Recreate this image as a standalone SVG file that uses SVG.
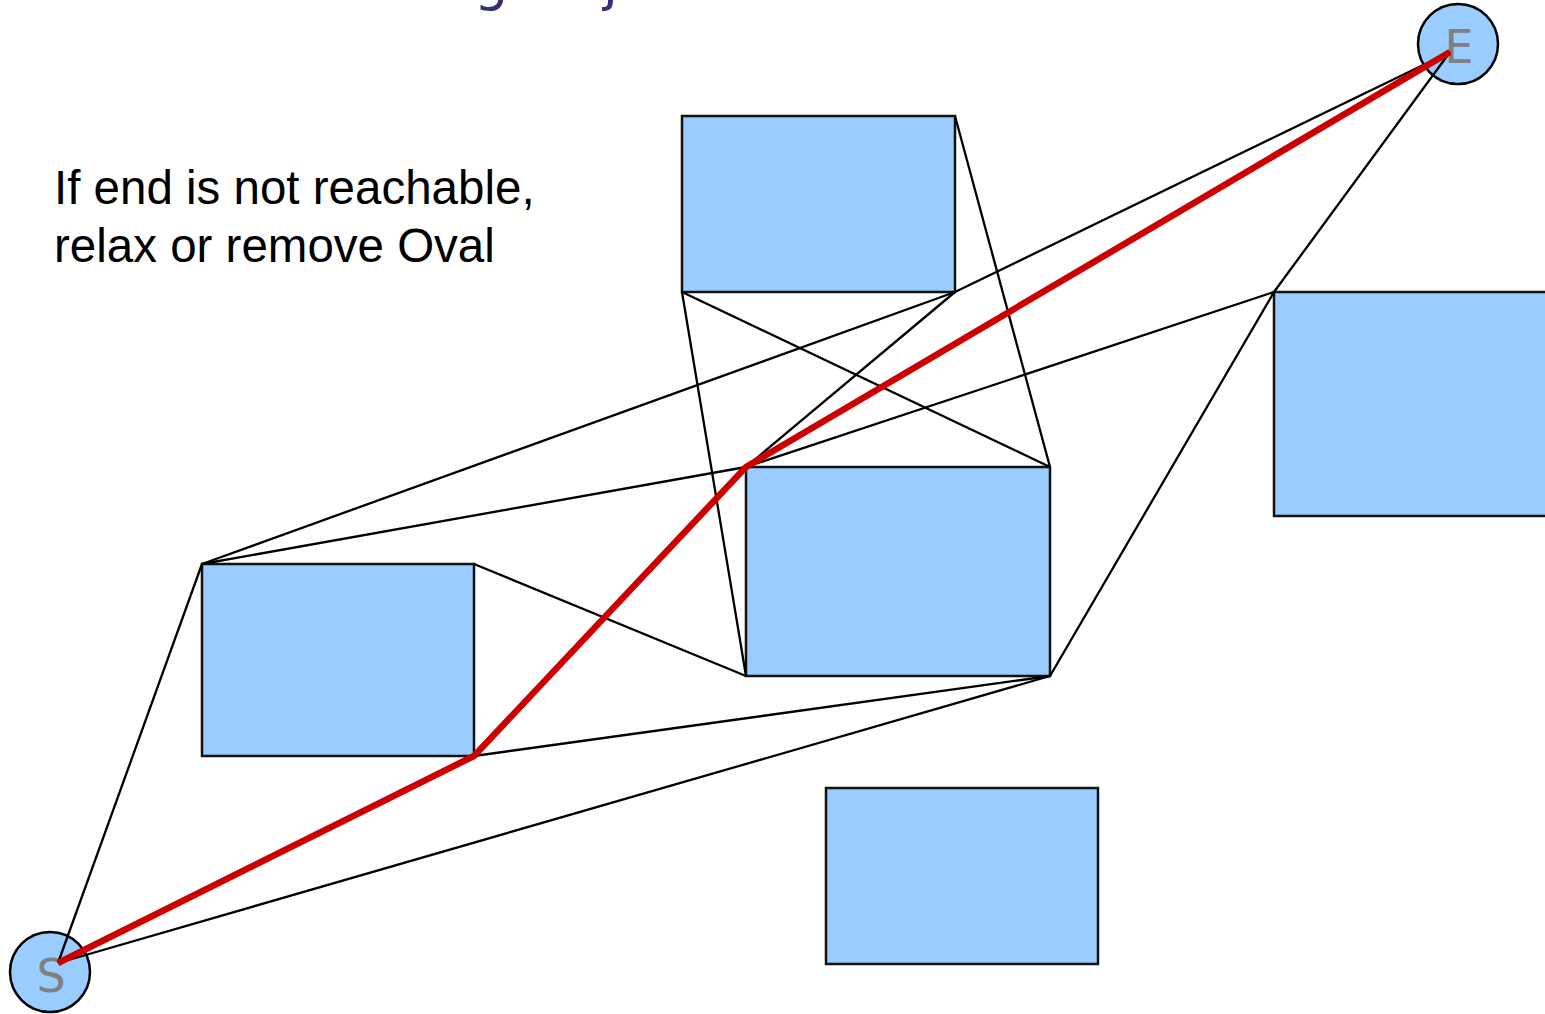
<svg xmlns="http://www.w3.org/2000/svg" width="1545" height="1014" viewBox="0 0 1545 1014">
<style>
.ob{fill:#99ccff;stroke:#111;stroke-width:2.5}
.nd{fill:#99ccff;stroke:#000;stroke-width:2.5}
.lbl{font-family:"DejaVu Sans",sans-serif;font-size:46px;fill:#808080;text-anchor:middle}
.e{stroke:#000;stroke-width:2.3;fill:none}
.p{stroke:#cc0000;stroke-width:6.5;fill:none;stroke-linejoin:round}
.t{font-family:"Liberation Sans",Arial,sans-serif;font-size:47.5px;fill:#000}
.ti{font-family:"DejaVu Sans",sans-serif;font-size:54px;fill:#33307e}
</style>
<rect width="1545" height="1014" fill="#fff"/>
<g id="title"><text class="ti" x="474" y="0">g</text><text class="ti" x="603" y="0">j</text></g>
<g id="obstacle-top"><rect class="ob" x="682" y="116" width="273" height="176"/></g>
<g id="obstacle-center"><rect class="ob" x="746" y="467" width="304" height="209"/></g>
<g id="obstacle-left"><rect class="ob" x="202" y="564" width="272" height="192"/></g>
<g id="obstacle-bottom"><rect class="ob" x="826" y="788" width="272" height="176"/></g>
<g id="obstacle-right"><rect class="ob" x="1274" y="292" width="280" height="224"/></g>
<g id="start"><circle class="nd" cx="50" cy="972" r="40"/><text class="lbl" x="51" y="992">S</text></g>
<g id="end"><circle class="nd" cx="1458" cy="44" r="40"/><text class="lbl" x="1459" y="63">E</text></g>
<g id="connectors">
<line class="e" x1="58" y1="963" x2="202" y2="564"/>
<line class="e" x1="58" y1="963" x2="1050" y2="676"/>
<line class="e" x1="202" y1="564" x2="955" y2="292"/>
<line class="e" x1="202" y1="564" x2="746" y2="467"/>
<line class="e" x1="474" y1="564" x2="746" y2="676"/>
<line class="e" x1="474" y1="756" x2="1050" y2="676"/>
<line class="e" x1="955" y1="116" x2="1050" y2="467"/>
<line class="e" x1="682" y1="292" x2="746" y2="676"/>
<line class="e" x1="682" y1="292" x2="1050" y2="467"/>
<line class="e" x1="955" y1="292" x2="746" y2="467"/>
<line class="e" x1="955" y1="292" x2="1450" y2="52"/>
<line class="e" x1="746" y1="467" x2="1274" y2="292"/>
<polyline class="e" points="1050,676 1274,292 1450,52"/>
<polyline class="p" points="58,963 474,756 746,467 1450,52"/>
</g>
<g id="note"><text class="t" x="54" y="204">If end is not reachable,</text><text class="t" x="54" y="262">relax or remove Oval</text></g>
</svg>
